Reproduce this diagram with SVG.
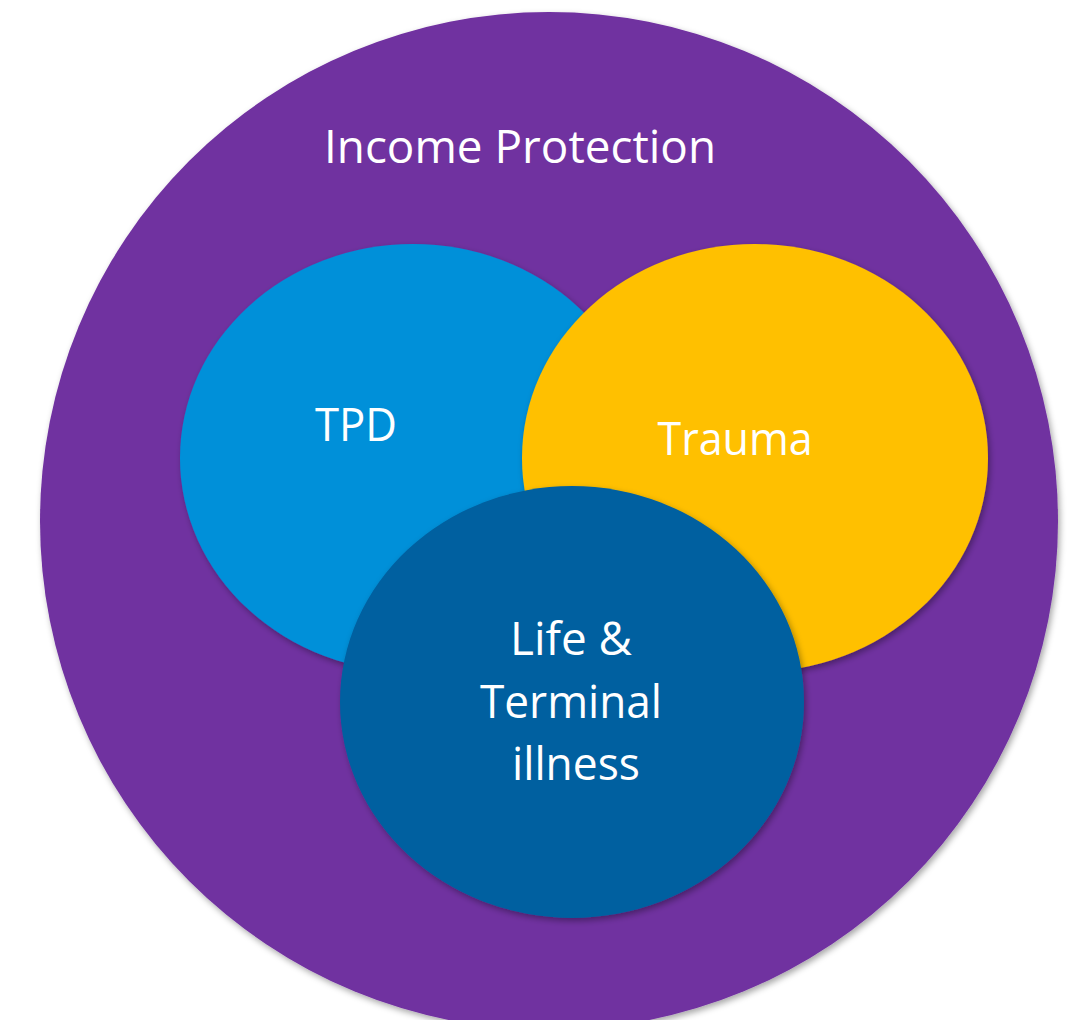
<svg xmlns="http://www.w3.org/2000/svg" width="1074" height="1020" viewBox="0 0 1074 1020">
  <defs>
    <filter id="shadow" x="-10%" y="-10%" width="120%" height="120%">
      <feDropShadow dx="2" dy="3" stdDeviation="3" flood-color="#000" flood-opacity="0.35"/>
    </filter>
    <style>
      .lbl { font-family: "Open Sans", "Liberation Sans", sans-serif; fill: #ffffff; text-anchor: middle; }
      .bubble { filter: url(#shadow); }
    </style>
  </defs>
  <rect width="1074" height="1020" fill="#ffffff"/>

  <g id="income-protection">
    <ellipse class="bubble" cx="549" cy="521" rx="509" ry="509" fill="#7030A0"/>
    <text class="lbl" x="520" y="163" font-size="46" textLength="392" lengthAdjust="spacingAndGlyphs">Income Protection</text>
  </g>

  <g id="tpd">
    <ellipse class="bubble" cx="413" cy="458" rx="233" ry="214" fill="#0090D9"/>
    <text class="lbl" x="356" y="441" font-size="46" textLength="82" lengthAdjust="spacingAndGlyphs">TPD</text>
  </g>

  <g id="trauma">
    <ellipse class="bubble" cx="755" cy="458" rx="233" ry="214" fill="#FFC000"/>
    <text class="lbl" x="735" y="455" font-size="46" textLength="155" lengthAdjust="spacingAndGlyphs">Trauma</text>
  </g>

  <g id="life-terminal">
    <ellipse class="bubble" cx="572" cy="702" rx="232" ry="216" fill="#0060A0"/>
    <text class="lbl" x="571" y="655" font-size="46" textLength="122" lengthAdjust="spacingAndGlyphs">Life &amp;</text>
    <text class="lbl" x="571" y="718" font-size="46" textLength="182" lengthAdjust="spacingAndGlyphs">Terminal</text>
    <text class="lbl" x="576" y="780" font-size="46" textLength="128" lengthAdjust="spacingAndGlyphs">illness</text>
  </g>

  <g id="connectors"/>
</svg>
